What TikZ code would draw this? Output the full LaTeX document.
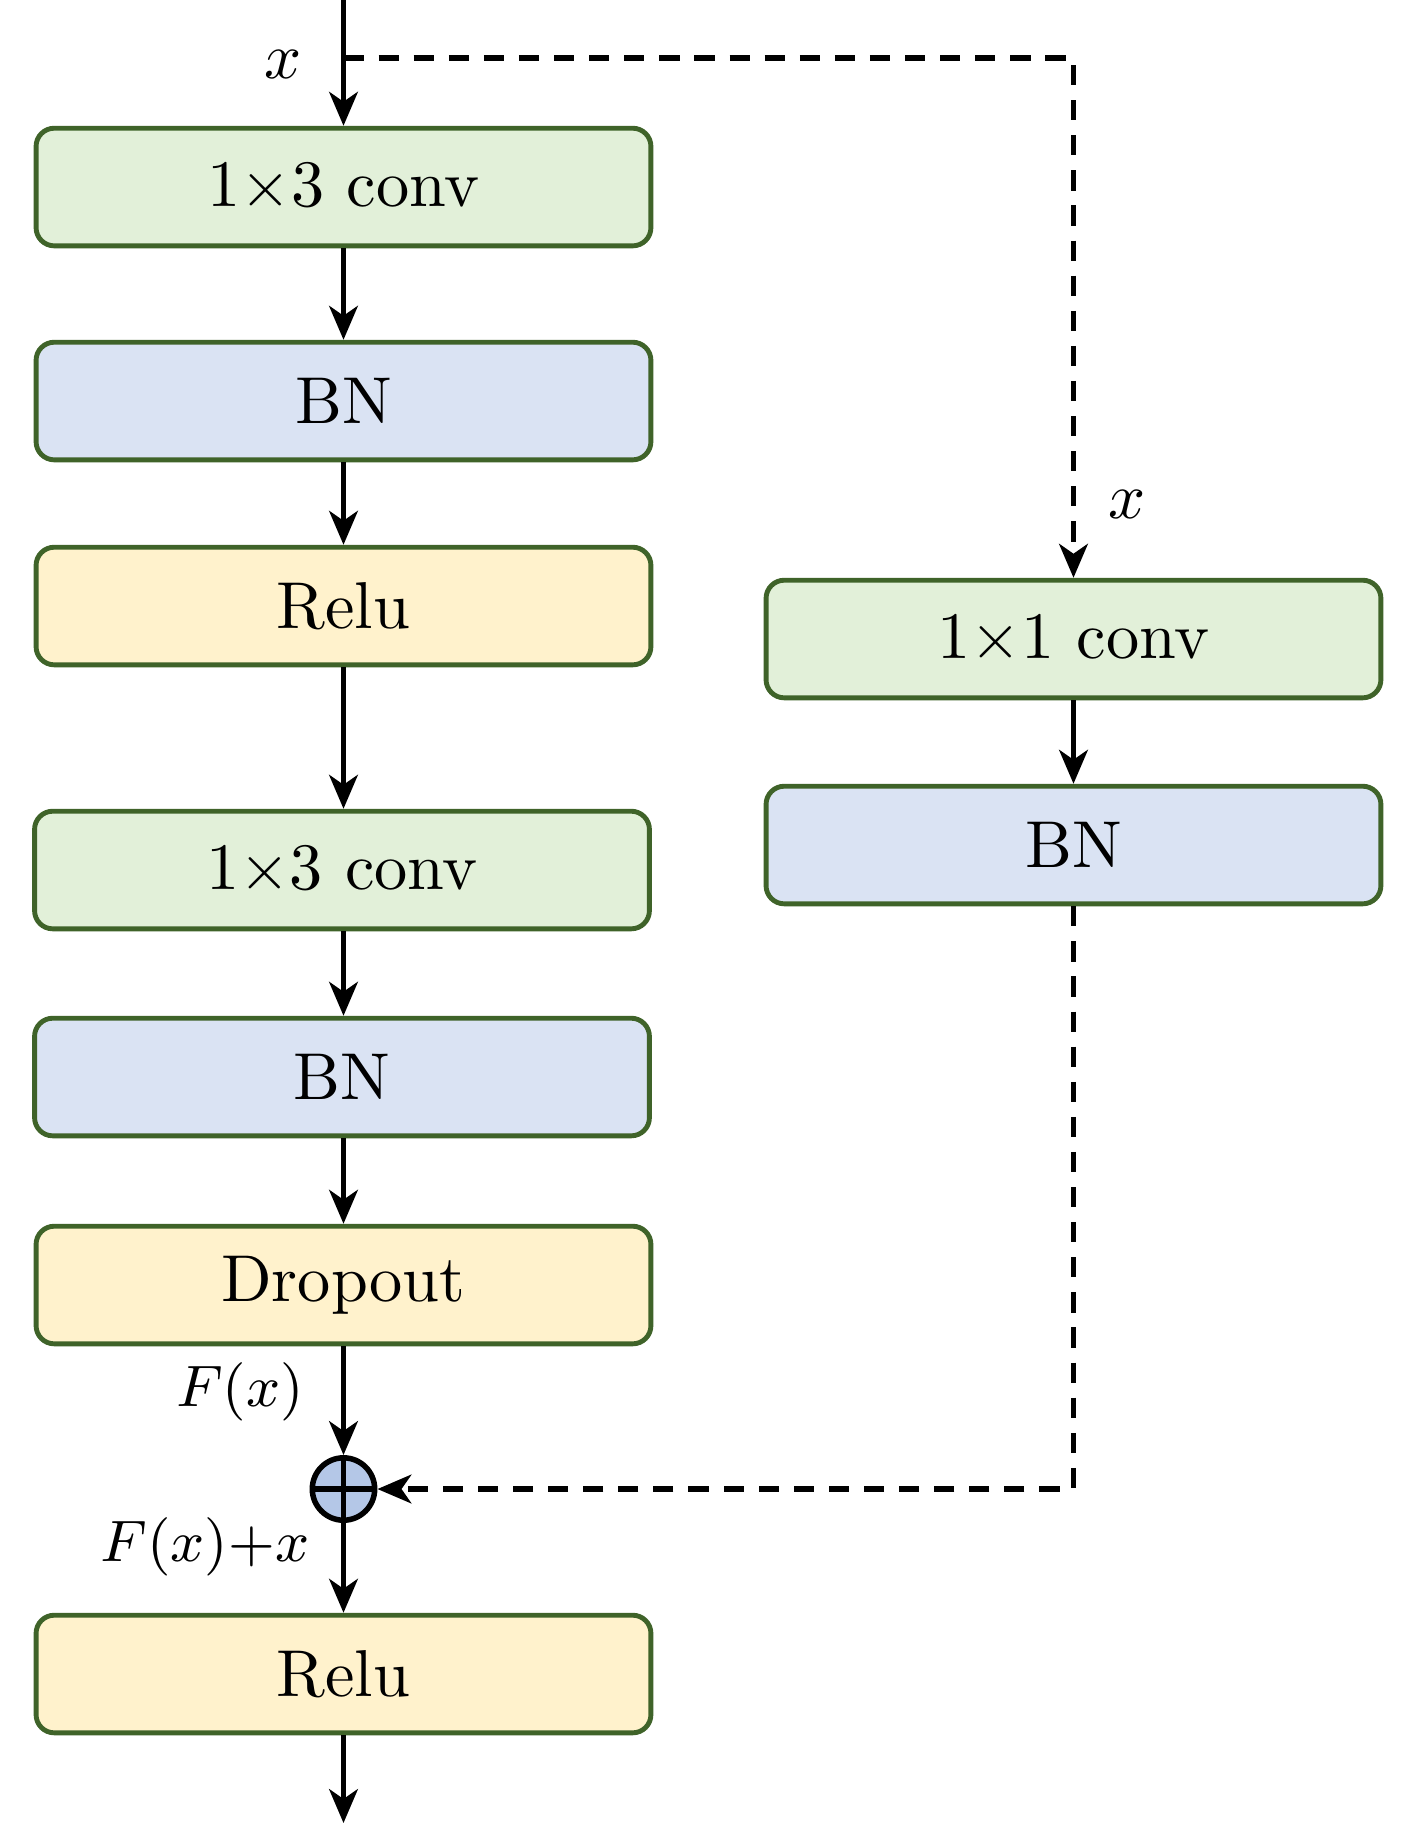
\documentclass[tikz,border=0pt]{standalone}
\usetikzlibrary{arrows.meta}
\definecolor{gfill}{HTML}{E2F0D9}
\definecolor{bfill}{HTML}{DAE3F3}
\definecolor{yfill}{HTML}{FFF2CC}
\definecolor{edgegreen}{HTML}{3F6329}
\definecolor{cfill}{HTML}{B4C7E7}
\tikzset{
  blk/.style={draw=edgegreen, line width=0.75pt, rounded corners=2.8pt,
    minimum width=94.6pt, minimum height=18.1pt, inner sep=0pt, font=\fontsize{10.2}{12}\selectfont},
  gbox/.style={blk, fill=gfill},
  bbox/.style={blk, fill=bfill},
  ybox/.style={blk, fill=yfill},
  conn/.style={line width=0.85pt, -{Stealth[length=5.2pt,width=4.4pt,inset=1.5pt]}},
  dconn/.style={conn, dash pattern=on 3.1pt off 2.3pt},
  lbl/.style={inner sep=0pt, font=\fontsize{9.6}{12}\selectfont},
  slbl/.style={inner sep=0pt, font=\fontsize{9.1}{11}\selectfont}
}
\begin{document}
\begin{tikzpicture}[x=0.15385pt,y=-0.15385pt]
\useasboundingbox (0,0) rectangle (1417,1825);
% left column
\node[gbox] (c1) at (343.5,187) {1$\times$3 conv};
\node[bbox] (b1) at (343.5,401) {BN};
\node[ybox] (r1) at (343.5,606) {Relu};
\node[gbox] (c2) at (342,870) {1$\times$3 conv};
\node[bbox] (b2) at (342,1077) {BN};
\node[ybox] (d1) at (343.5,1285) {Dropout};
\node[circle, draw=black, fill=cfill, line width=0.85pt, minimum size=9.6pt, inner sep=0pt] (add) at (343.5,1489) {};
\draw[line width=0.85pt] (add.north) -- (add.south) (add.west) -- (add.east);
\node[ybox] (r2) at (343.5,1674) {Relu};
% right column
\node[gbox] (c3) at (1073.5,639) {1$\times$1 conv};
\node[bbox] (b3) at (1073.5,845) {BN};
% coordinates
\coordinate (top) at (343.5,0);
\coordinate (split) at (343.5,58);
\coordinate (corner1) at (1073.5,58);
\coordinate (corner2) at (1073.5,1489);
\coordinate (out) at (343.5,1823);
% connectors
\draw[conn] (top) -- (c1.north);
\draw[conn] (c1) -- (b1);
\draw[conn] (b1) -- (r1);
\draw[conn] (r1) -- (c2.north -| r1.south);
\draw[conn] (c2.south -| r1.south) -- (b2.north -| r1.south);
\draw[conn] (b2.south -| r1.south) -- (d1.north);
\draw[conn] (d1) -- (add);
\draw[conn] (add) -- (r2);
\draw[conn] (r2.south) -- (out);
\draw[dconn] (split) -- (corner1) -- (c3.north);
\draw[conn] (c3) -- (b3);
\draw[dconn] (b3.south) -- (corner2) -- (add.east);
% labels
\node[lbl] (lx1) at (283,64) {$x$};
\node[lbl] (lx2) at (1127,504) {$x$};
\node[slbl] (lfx) at (240,1392) {$F(x)$};
\node[slbl] (lfxx) at (205,1547) {$F(x){+}x$};
\end{tikzpicture}
\end{document}
